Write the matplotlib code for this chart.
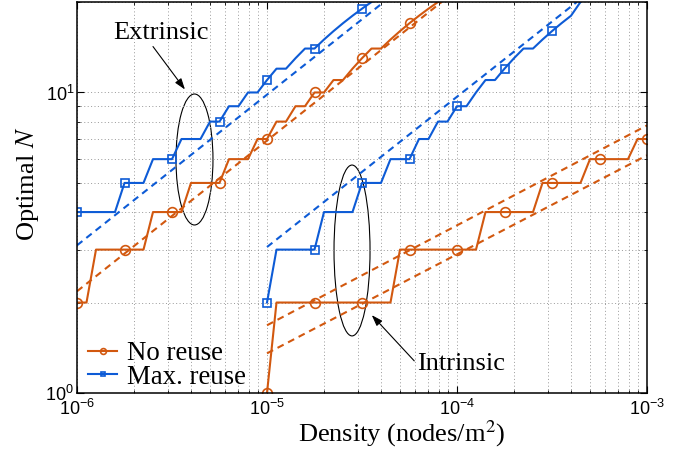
import numpy as np
import matplotlib.pyplot as plt
from matplotlib.patches import Ellipse
from matplotlib.ticker import NullFormatter

plt.rcParams["font.family"] = "Liberation Serif"
plt.rcParams["mathtext.fontset"] = "stix"

ORANGE = "#d2580f"
BLUE = "#0d5bd6"

# density grid: 20 samples per decade, 1e-6 .. 1e-3 nodes/m^2
density = np.logspace(-6, -3, 61)

# extrinsic case, starts at 1e-6
ext_no_reuse = [2, 2, 3, 3, 3, 3, 3, 3, 4, 4, 4, 4, 5, 5, 5, 5, 6, 6, 6, 7,
                7, 8, 8, 9, 9, 10, 10, 11, 11, 12, 13, 14, 14, 15, 16, 17, 18, 19, 20]
ext_max_reuse = [4, 4, 4, 4, 4, 5, 5, 5, 6, 6, 6, 7, 7, 7, 8, 8, 9, 9, 10, 10,
                 11, 12, 12, 13, 14, 14, 15, 16, 17, 18, 19, 20]

# intrinsic case, starts at 1e-5
int_no_reuse = [1, 2, 2, 2, 2, 2, 2, 2, 2, 2, 2, 2, 2, 2, 3, 3, 3, 3, 3, 3,
                3, 3, 3, 4, 4, 4, 4, 4, 4, 5, 5, 5, 5, 5, 6, 6, 6, 6, 6, 7, 7]
int_max_reuse = [2, 3, 3, 3, 3, 3, 4, 4, 4, 4, 5, 5, 5, 6, 6, 6, 7, 7, 8, 8,
                 9, 9, 10, 11, 11, 12, 13, 14, 14, 15, 16, 17, 18, 20]

# dashed asymptotes (end points)
ext_no_bound_x, ext_no_bound_y = [1e-6, 8.3e-5], [2.18, 20]
ext_max_bound_x, ext_max_bound_y = [1e-6, 4.12e-5], [3.1, 20]
int_max_bound_x, int_max_bound_y = [1e-5, 4.27e-4], [3.06, 20]
int_no_upper_x, int_no_upper_y = [1e-5, 1e-3], [1.68, 7.77]
int_no_lower_x, int_no_lower_y = [1e-5, 1e-3], [1.355, 6.18]

fig = plt.figure(figsize=(6.93, 4.53), dpi=100)
ax = fig.add_axes([77 / 693, 1 - 393 / 453, 570 / 693, 391 / 453])
ax.set_xscale("log")
ax.set_yscale("log")

dash = dict(linestyle=(0, (3.3, 2.4)), linewidth=1.5)
ax.plot(ext_no_bound_x, ext_no_bound_y, color=ORANGE, **dash)
ax.plot(ext_max_bound_x, ext_max_bound_y, color=BLUE, **dash)
ax.plot(int_max_bound_x, int_max_bound_y, color=BLUE, **dash)
ax.plot(int_no_upper_x, int_no_upper_y, color=ORANGE, **dash)
ax.plot(int_no_lower_x, int_no_lower_y, color=ORANGE, **dash)

sty_o = dict(color=ORANGE, lw=1.5, marker="o", ms=7, mfc="none", mew=1.2, markevery=5)
sty_s = dict(color=BLUE, lw=1.5, marker="s", ms=5.5, mfc="none", mew=1.2, markevery=5)

h1, = ax.plot(density[:len(ext_no_reuse)], ext_no_reuse, label="No reuse", **sty_o)
h2, = ax.plot(density[:len(ext_max_reuse)], ext_max_reuse, label="Max. reuse", **sty_s)
ax.plot(density[20:20 + len(int_no_reuse)], int_no_reuse, **sty_o)
ax.plot(density[20:20 + len(int_max_reuse)], int_max_reuse, **sty_s)

ax.set_xlim(1e-6, 1e-3)
ax.set_ylim(1, 20)
ax.yaxis.set_minor_formatter(NullFormatter())
ax.xaxis.set_minor_formatter(NullFormatter())
ax.grid(True, which="both", linestyle=(0, (1, 2.5)), linewidth=0.7, color="#999999")
ax.tick_params(which="both", direction="in", top=True, right=True,
               labelfontfamily="Liberation Sans", labelsize=13)
ax.tick_params(which="major", length=5, width=0.8)
ax.tick_params(which="minor", length=2.5, width=0.6)
ax.tick_params(axis="y", pad=2)
ax.tick_params(axis="x", pad=4.5)
for sp in ax.spines.values():
    sp.set_linewidth(1.1)

ax.set_xlabel(r"Density (nodes/m$^2$)", fontsize=19, va="center")
ax.xaxis.set_label_coords(0.570, -0.104)
ax.set_ylabel(r"Optimal $N$", fontsize=19, va="center")
ax.yaxis.set_label_coords(-0.086, 0.535)

# ellipses marking the two groups
ax.add_patch(Ellipse((0.2061, 0.5972), 0.0649, 0.335, transform=ax.transAxes,
                     fill=False, edgecolor="black", linewidth=0.8))
ax.add_patch(Ellipse((0.4825, 0.3645), 0.0632, 0.437, transform=ax.transAxes,
                     fill=False, edgecolor="black", linewidth=0.8))

arrow = dict(arrowstyle="-|>,head_length=0.35,head_width=0.12", color="black",
             lw=0.8, shrinkA=0, shrinkB=0)
ax.annotate("Extrinsic", xy=(3.70e-6, 10.23), xytext=(2.75e-6, 15.8),
            fontsize=19, ha="center", va="center",
            arrowprops=dict(relpos=(0.4, 0.0), **arrow))
ax.annotate("Intrinsic", xy=(3.56e-5, 1.816), xytext=(6.16e-5, 1.25),
            fontsize=19, ha="left", va="center",
            arrowprops=dict(relpos=(0.0, 0.5), **arrow))

ax.legend(handles=[h1, h2], loc="center left", bbox_to_anchor=(0.0193, 0.070),
          frameon=False, fontsize=19.4, borderpad=0, borderaxespad=0,
          handlelength=1.08, handletextpad=0.37, labelspacing=-0.06,
          markerscale=0.6)

fig.savefig("out.png", dpi=100)
